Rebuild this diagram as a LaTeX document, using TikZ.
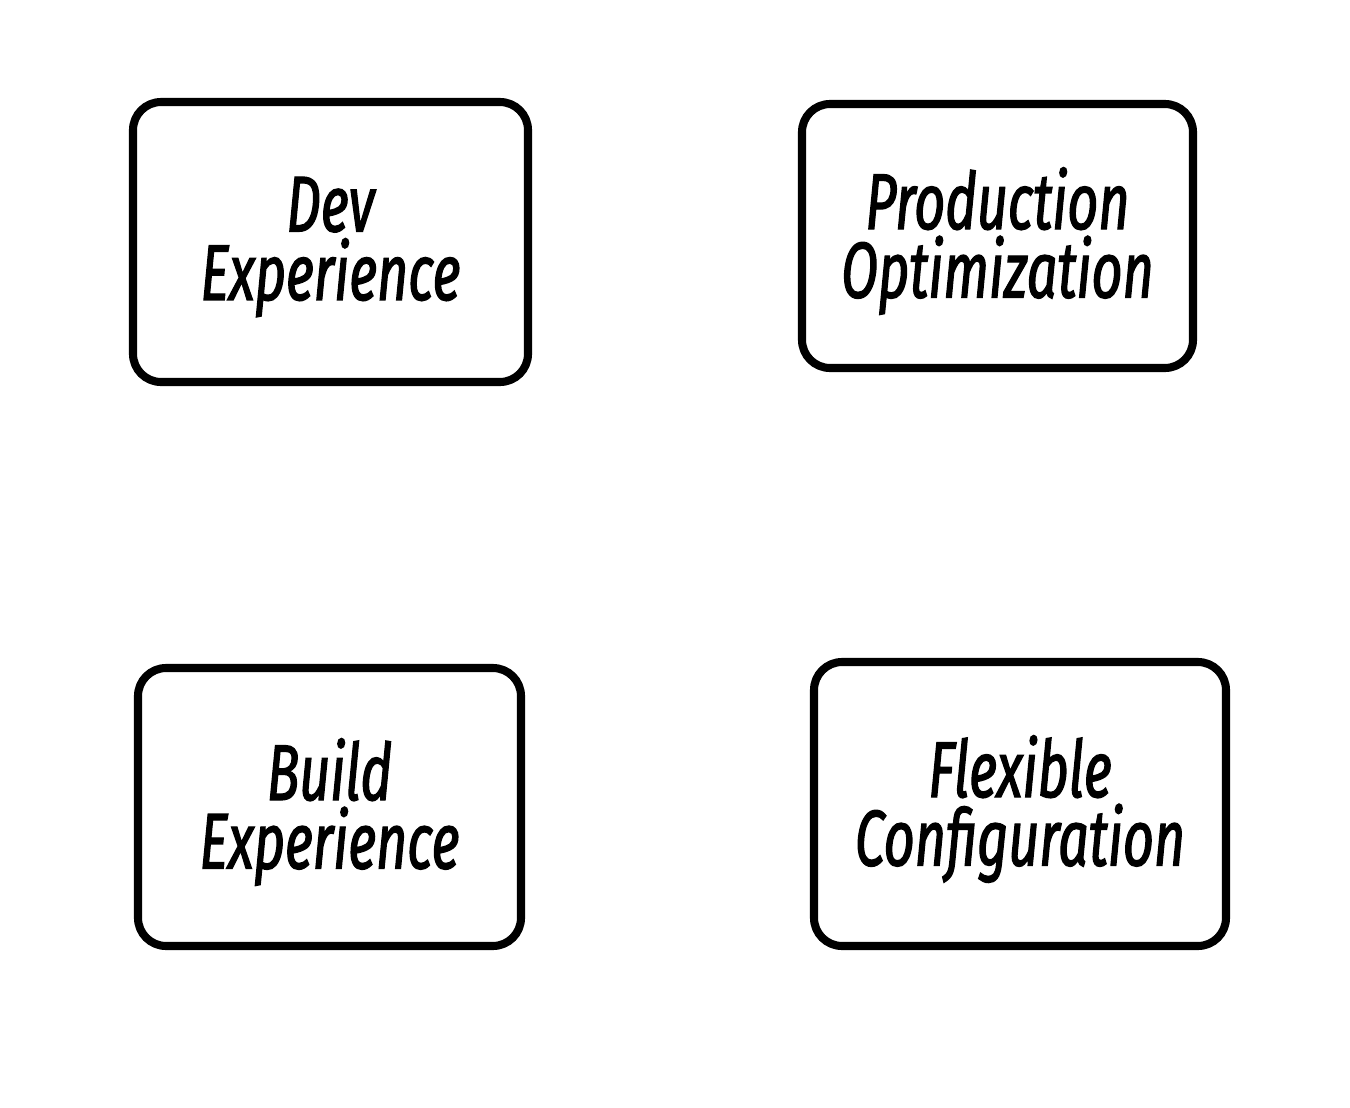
\documentclass[tikz,border=0pt]{standalone}
\usepackage{fontspec}
\newfontfamily\cardfont[FakeStretch=0.68, FakeBold=1.6]{Fira Sans}
\tikzset{
  card/.style={draw, line width=2.3pt, rounded corners=8pt, inner sep=0pt},
  cardtext/.style={align=center, yshift=-0.05cm, font=\cardfont\itshape\fontsize{22.5}{19.5}\selectfont}
}
\begin{document}
\begin{tikzpicture}
  \useasboundingbox (0,0) rectangle (13.5,11.07);
  \node[card, minimum width=3.95cm, minimum height=2.8cm] (dev) at (3.305,8.65) {};
  \node[card, minimum width=3.91cm, minimum height=2.64cm] (prod) at (9.975,8.71) {};
  \node[card, minimum width=3.83cm, minimum height=2.78cm] (build) at (3.295,3.0) {};
  \node[card, minimum width=4.12cm, minimum height=2.84cm] (flex) at (10.2,3.03) {};
  \node[cardtext] at (dev) {Dev\\Experience};
  \node[cardtext] at (prod) {Production\\Optimization};
  \node[cardtext] at (build) {Build\\Experience};
  \node[cardtext] at (flex) {Flexible\\Configuration};
\end{tikzpicture}
\end{document}
